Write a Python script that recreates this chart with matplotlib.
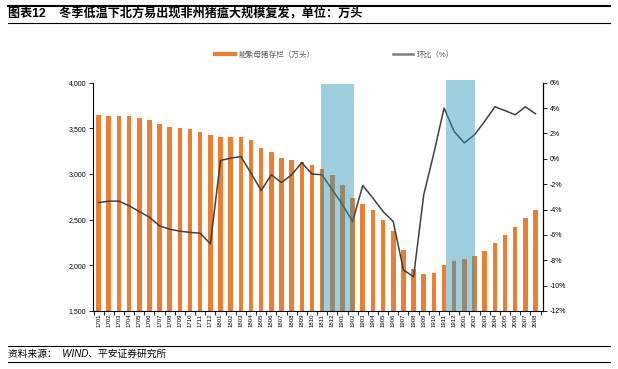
import matplotlib
matplotlib.use('Agg')
import matplotlib.pyplot as plt
from matplotlib.patches import Rectangle
from matplotlib.lines import Line2D
from matplotlib.ticker import FuncFormatter

plt.rcParams['font.family'] = ['Liberation Sans', 'Noto Sans CJK SC']

# month labels (yymm)
months = ['1701', '1702', '1703', '1704', '1705', '1706', '1707', '1708', '1709', '1710', '1711', '1712',
          '1801', '1802', '1803', '1804', '1805', '1806', '1807', '1808', '1809', '1810', '1811', '1812',
          '1901', '1902', '1903', '1904', '1905', '1906', '1907', '1908', '1909', '1910', '1911', '1912',
          '2001', '2002', '2003', '2004', '2005', '2006', '2007', '2008']

# breeding sow inventory, 10k head
sows = [3650, 3635, 3635, 3635, 3610, 3590, 3550, 3520, 3505, 3490, 3460, 3425,
        3410, 3410, 3410, 3370, 3290, 3245, 3180, 3148, 3130, 3100, 3057, 2990,
        2880, 2736, 2673, 2607, 2501, 2377, 2165, 1964, 1909, 1920, 2000, 2045,
        2070, 2103, 2161, 2249, 2337, 2418, 2520, 2607]

# month-on-month change, %
mom = [-3.45, -3.34, -3.34, -3.7, -4.16, -4.6, -5.29, -5.55, -5.71, -5.8, -5.87, -6.7,
       -0.13, 0.05, 0.18, -1.13, -2.5, -1.26, -1.87, -1.26, -0.3, -1.2, -1.26, -2.45,
       -3.6, -4.95, -2.1, -3.1, -4.16, -4.95, -8.76, -9.3, -2.84, 0.45, 4.0, 2.15,
       1.25, 1.9, 2.95, 4.1, 3.8, 3.47, 4.1, 3.55]

# winter windows highlighted (start idx, end idx, top in %)
winters = [(21.9, 25.1, 5.87), (34.15, 37.0, 6.2)]

orange = '#ED7D31'
gray_line = '#404040'

fig = plt.figure(figsize=(6.18, 3.69), dpi=100)
ax = fig.add_axes([0.1505, 0.1572, 0.7275, 0.6187])
ax2 = ax.twinx()

x = list(range(len(months)))
ax.bar(x, sows, width=0.45, color=orange, zorder=2)
ax.set_ylim(1500, 4000)
ax.set_yticks(range(1500, 4001, 500))
ax.yaxis.set_major_formatter(FuncFormatter(lambda v, p: f'{int(v):,}'))
ax.set_xlim(-0.55, 43.7)
ax.set_xticks(x)
ax.set_xticklabels(months, rotation=90, fontsize=4.3)
ax.set_xticks([i + 0.5 for i in range(-1, len(months))], minor=True)
ax.tick_params(axis='x', which='major', length=0, pad=2)
ax.tick_params(axis='x', which='minor', length=3, width=0.6, direction='out')
ax.tick_params(axis='y', labelsize=5, length=3, width=0.6, pad=2)
ax.spines['top'].set_visible(False)
for s in ['left', 'bottom']:
    ax.spines[s].set_linewidth(0.8)

ax2.plot(x, mom, color=gray_line, lw=1.1, zorder=3)
ax2.set_ylim(-12, 6)
ax2.set_yticks(range(-12, 7, 2))
ax2.yaxis.set_major_formatter(FuncFormatter(lambda v, p: f'{int(v)}%'))
ax2.tick_params(axis='y', labelsize=5, length=3, width=0.6, pad=2)
ax2.spines['top'].set_visible(False)
ax2.spines['left'].set_visible(False)
ax2.spines['bottom'].set_visible(False)
ax2.spines['right'].set_linewidth(0.8)

for x0, x1, top in winters:
    r = Rectangle((x0, -12), x1 - x0, top + 12, facecolor='#2896B9', alpha=0.45,
                  edgecolor='none', zorder=5, clip_on=False)
    ax2.add_patch(r)

handles = [Line2D([], [], color=orange, lw=3), Line2D([], [], color='#7f7f7f', lw=1.8)]
fig.legend(handles, ['能繁母猪存栏（万头）', '环比（%）'], loc='center left',
           bbox_to_anchor=(0.348, 0.851), ncol=2, frameon=False, fontsize=5.5,
           handlelength=2.6, handletextpad=0.5, columnspacing=10.2,
           borderpad=0, borderaxespad=0, labelcolor='#595959')

# header / footer rules
for y, lw in [(0.984, 1.5), (0.938, 0.8), (0.062, 0.8), (0.019, 0.8)]:
    fig.add_artist(Line2D([0.013, 0.987], [y, y], color='black', lw=lw))

fig.text(0.013, 0.96, '图表12    冬季低温下北方易出现非州猪瘟大规模复发，单位：万头',
         fontsize=8.7, fontweight='bold', va='center', ha='left')
fig.text(0.013, 0.041, '资料来源：  WIND、平安证券研究所', fontsize=7, style='italic',
         va='center', ha='left')

fig.savefig('out.png', dpi=100)
